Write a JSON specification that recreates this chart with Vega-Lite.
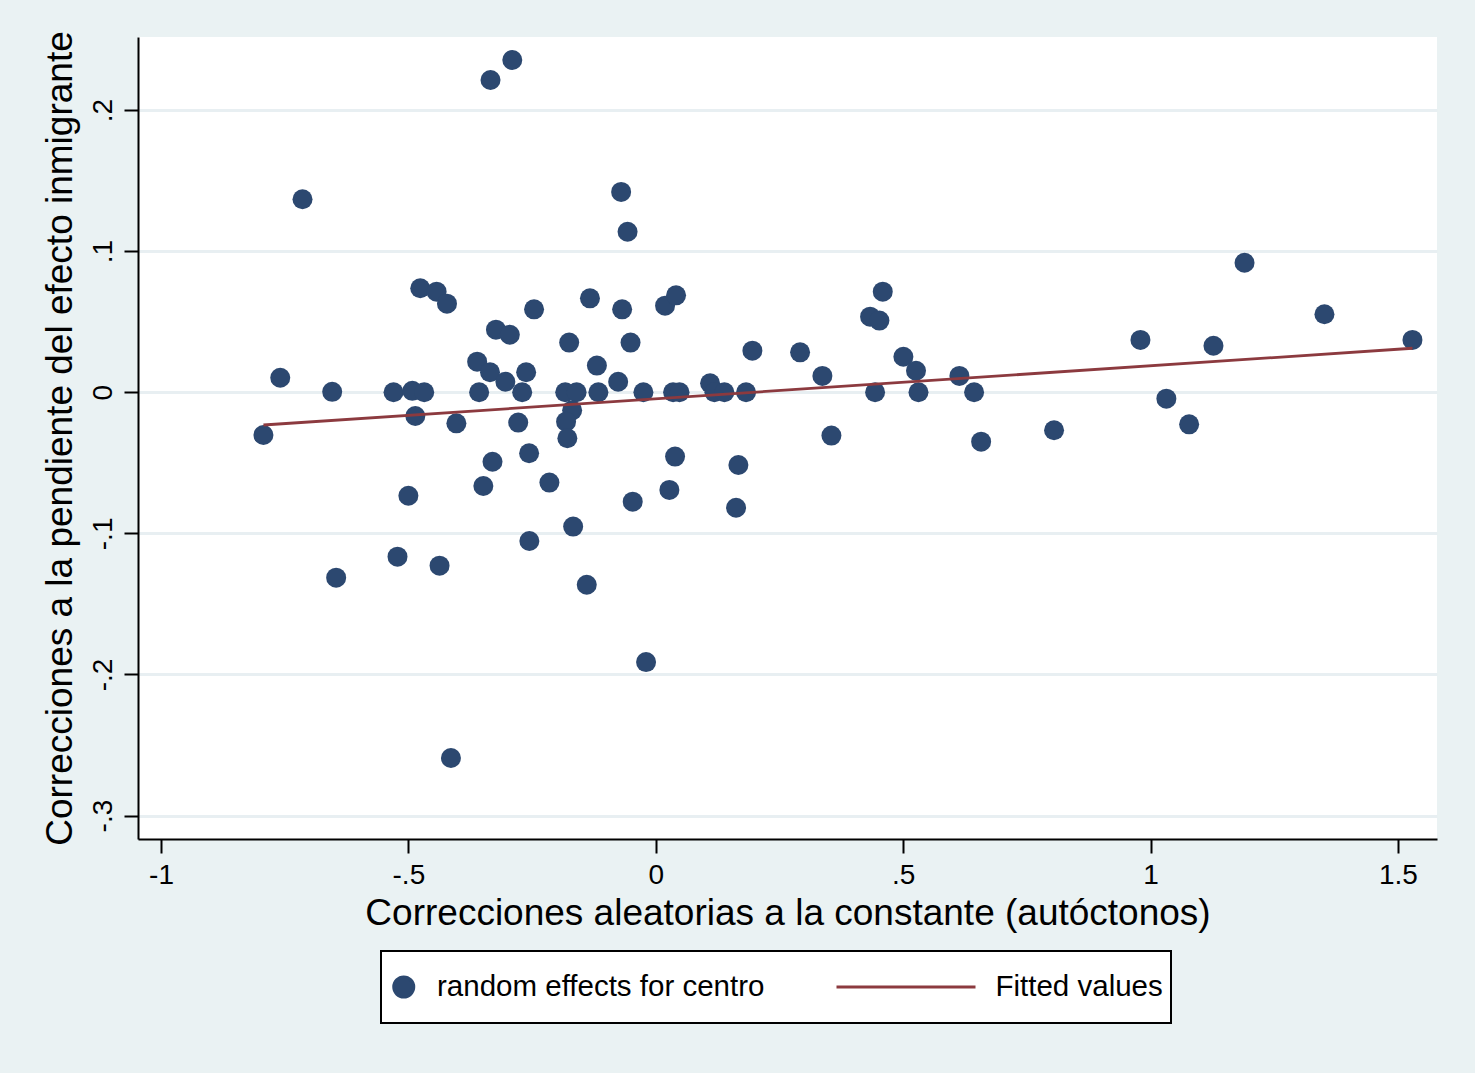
{
  "$schema": "https://vega.github.io/schema/vega-lite/v6.json",
  "width": 1299,
  "height": 802,
  "autosize": {"type": "none"},
  "padding": {"left": 138, "top": 37, "right": 38, "bottom": 234},
  "background": "#eaf2f3",
  "config": {
    "view": {"fill": "white", "stroke": null},
    "font": "Liberation Sans",
    "axis": {
      "domainColor": "black",
      "domainWidth": 2,
      "tickColor": "black",
      "tickWidth": 2,
      "tickSize": 14,
      "labelFont": "Liberation Sans",
      "labelFontSize": 28,
      "labelColor": "black",
      "titleFont": "Liberation Sans",
      "titleFontSize": 37,
      "titleFontWeight": "normal",
      "titleColor": "black",
      "gridColor": "#e8eff2",
      "gridWidth": 3
    },
    "legend": {
      "title": null,
      "orient": "none",
      "legendX": 243,
      "legendY": 914,
      "direction": "horizontal",
      "strokeColor": "black",
      "strokeWidth": 2,
      "fillColor": "white",
      "padding": 8,
      "clipHeight": 56,
      "labelFont": "Liberation Sans",
      "labelFontSize": 29.5,
      "labelColor": "black",
      "labelOffset": 18.5,
      "labelLimit": 1000,
      "columnPadding": 70,
      "symbolOffset": 0,
      "symbolStrokeWidth": 3
    }
  },
  "datasets": {
    "points": [
      {"x": -0.793, "y": -0.0303, "series": "random effects for centro"},
      {"x": -0.759, "y": 0.0103, "series": "random effects for centro"},
      {"x": -0.714, "y": 0.1368, "series": "random effects for centro"},
      {"x": -0.654, "y": 0.0003, "series": "random effects for centro"},
      {"x": -0.646, "y": -0.1314, "series": "random effects for centro"},
      {"x": -0.530, "y": 0.0, "series": "random effects for centro"},
      {"x": -0.522, "y": -0.1165, "series": "random effects for centro"},
      {"x": -0.500, "y": -0.0733, "series": "random effects for centro"},
      {"x": -0.492, "y": 0.001, "series": "random effects for centro"},
      {"x": -0.486, "y": -0.0168, "series": "random effects for centro"},
      {"x": -0.476, "y": 0.0737, "series": "random effects for centro"},
      {"x": -0.468, "y": 0.0, "series": "random effects for centro"},
      {"x": -0.443, "y": 0.0713, "series": "random effects for centro"},
      {"x": -0.437, "y": -0.1229, "series": "random effects for centro"},
      {"x": -0.422, "y": 0.0628, "series": "random effects for centro"},
      {"x": -0.414, "y": -0.2592, "series": "random effects for centro"},
      {"x": -0.403, "y": -0.022, "series": "random effects for centro"},
      {"x": -0.361, "y": 0.0217, "series": "random effects for centro"},
      {"x": -0.357, "y": 0.0, "series": "random effects for centro"},
      {"x": -0.3485, "y": -0.0664, "series": "random effects for centro"},
      {"x": -0.335, "y": 0.0142, "series": "random effects for centro"},
      {"x": -0.334, "y": 0.2213, "series": "random effects for centro"},
      {"x": -0.330, "y": -0.0492, "series": "random effects for centro"},
      {"x": -0.323, "y": 0.0444, "series": "random effects for centro"},
      {"x": -0.304, "y": 0.0075, "series": "random effects for centro"},
      {"x": -0.295, "y": 0.0408, "series": "random effects for centro"},
      {"x": -0.290, "y": 0.2355, "series": "random effects for centro"},
      {"x": -0.278, "y": -0.0215, "series": "random effects for centro"},
      {"x": -0.270, "y": 0.0, "series": "random effects for centro"},
      {"x": -0.262, "y": 0.0142, "series": "random effects for centro"},
      {"x": -0.256, "y": -0.0432, "series": "random effects for centro"},
      {"x": -0.2555, "y": -0.1054, "series": "random effects for centro"},
      {"x": -0.246, "y": 0.0588, "series": "random effects for centro"},
      {"x": -0.215, "y": -0.064, "series": "random effects for centro"},
      {"x": -0.183, "y": 0.0, "series": "random effects for centro"},
      {"x": -0.175, "y": 0.0352, "series": "random effects for centro"},
      {"x": -0.169, "y": -0.0128, "series": "random effects for centro"},
      {"x": -0.167, "y": -0.0952, "series": "random effects for centro"},
      {"x": -0.160, "y": 0.0, "series": "random effects for centro"},
      {"x": -0.1813, "y": -0.0208, "series": "random effects for centro"},
      {"x": -0.1787, "y": -0.0326, "series": "random effects for centro"},
      {"x": -0.1395, "y": -0.1364, "series": "random effects for centro"},
      {"x": -0.133, "y": 0.0666, "series": "random effects for centro"},
      {"x": -0.119, "y": 0.0189, "series": "random effects for centro"},
      {"x": -0.116, "y": 0.0, "series": "random effects for centro"},
      {"x": -0.076, "y": 0.0075, "series": "random effects for centro"},
      {"x": -0.070, "y": 0.142, "series": "random effects for centro"},
      {"x": -0.068, "y": 0.0588, "series": "random effects for centro"},
      {"x": -0.057, "y": 0.1138, "series": "random effects for centro"},
      {"x": -0.051, "y": 0.0352, "series": "random effects for centro"},
      {"x": -0.0466, "y": -0.0775, "series": "random effects for centro"},
      {"x": -0.025, "y": 0.0, "series": "random effects for centro"},
      {"x": -0.0196, "y": -0.1912, "series": "random effects for centro"},
      {"x": 0.0188, "y": 0.0614, "series": "random effects for centro"},
      {"x": 0.0275, "y": -0.0692, "series": "random effects for centro"},
      {"x": 0.035, "y": 0.0, "series": "random effects for centro"},
      {"x": 0.039, "y": -0.0456, "series": "random effects for centro"},
      {"x": 0.041, "y": 0.0687, "series": "random effects for centro"},
      {"x": 0.048, "y": 0.0, "series": "random effects for centro"},
      {"x": 0.1098, "y": 0.0064, "series": "random effects for centro"},
      {"x": 0.1185, "y": 0.0, "series": "random effects for centro"},
      {"x": 0.1387, "y": 0.0, "series": "random effects for centro"},
      {"x": 0.1623, "y": -0.0818, "series": "random effects for centro"},
      {"x": 0.167, "y": -0.0515, "series": "random effects for centro"},
      {"x": 0.1825, "y": 0.0, "series": "random effects for centro"},
      {"x": 0.1953, "y": 0.0295, "series": "random effects for centro"},
      {"x": 0.2917, "y": 0.0283, "series": "random effects for centro"},
      {"x": 0.3368, "y": 0.0116, "series": "random effects for centro"},
      {"x": 0.355, "y": -0.0307, "series": "random effects for centro"},
      {"x": 0.4332, "y": 0.0536, "series": "random effects for centro"},
      {"x": 0.4433, "y": 0.0, "series": "random effects for centro"},
      {"x": 0.452, "y": 0.0508, "series": "random effects for centro"},
      {"x": 0.4588, "y": 0.0713, "series": "random effects for centro"},
      {"x": 0.5005, "y": 0.0252, "series": "random effects for centro"},
      {"x": 0.526, "y": 0.0153, "series": "random effects for centro"},
      {"x": 0.531, "y": 0.0, "series": "random effects for centro"},
      {"x": 0.6137, "y": 0.0116, "series": "random effects for centro"},
      {"x": 0.6434, "y": 0.0, "series": "random effects for centro"},
      {"x": 0.6576, "y": -0.035, "series": "random effects for centro"},
      {"x": 0.805, "y": -0.0269, "series": "random effects for centro"},
      {"x": 0.9796, "y": 0.0371, "series": "random effects for centro"},
      {"x": 1.032, "y": -0.0045, "series": "random effects for centro"},
      {"x": 1.078, "y": -0.0227, "series": "random effects for centro"},
      {"x": 1.1272, "y": 0.033, "series": "random effects for centro"},
      {"x": 1.19, "y": 0.0918, "series": "random effects for centro"},
      {"x": 1.3515, "y": 0.0553, "series": "random effects for centro"},
      {"x": 1.5294, "y": 0.0371, "series": "random effects for centro"}
    ],
    "fit": [
      {"x": -0.793, "y": -0.0232, "series": "Fitted values"},
      {"x": 1.5294, "y": 0.0312, "series": "Fitted values"}
    ]
  },
  "layer": [
    {
      "data": {"name": "points"},
      "mark": {"type": "point", "filled": true, "opacity": 1},
      "encoding": {
        "x": {
          "field": "x",
          "type": "quantitative",
          "scale": {"domain": [-1.0465, 1.579], "nice": false, "zero": false},
          "axis": {
            "title": "Correcciones aleatorias a la constante (autóctonos)",
            "values": [-1, -0.5, 0, 0.5, 1, 1.5],
            "grid": false,
            "labelPadding": 8,
            "titlePadding": 6,
            "labelExpr": "datum.value == 0 ? '0' : replace(toString(datum.value), '0.', '.')"
          }
        },
        "y": {
          "field": "y",
          "type": "quantitative",
          "scale": {"domain": [-0.3166, 0.2518], "nice": false, "zero": false},
          "axis": {
            "title": "Correcciones a la pendiente del efecto inmigrante",
            "values": [-0.3, -0.2, -0.1, 0, 0.1, 0.2],
            "grid": true,
            "labelAngle": 270,
            "labelAlign": "center",
            "labelBaseline": "alphabetic",
            "labelPadding": 13,
            "titlePadding": 10,
            "labelExpr": "datum.value == 0 ? '0' : replace(toString(datum.value), '0.', '.')"
          }
        },
        "color": {
          "field": "series",
          "type": "nominal",
          "scale": {
            "domain": ["random effects for centro", "Fitted values"],
            "range": ["#2c4870", "#8c3a3f"]
          }
        },
        "shape": {
          "field": "series",
          "type": "nominal",
          "scale": {
            "domain": ["random effects for centro", "Fitted values"],
            "range": ["circle", "stroke"]
          }
        },
        "size": {
          "field": "series",
          "type": "nominal",
          "scale": {
            "type": "ordinal",
            "domain": ["random effects for centro", "Fitted values"],
            "range": [400, 19321]
          }
        }
      }
    },
    {
      "data": {"name": "fit"},
      "mark": {"type": "line", "strokeWidth": 2.8},
      "encoding": {
        "x": {"field": "x", "type": "quantitative"},
        "y": {"field": "y", "type": "quantitative"},
        "color": {"field": "series", "type": "nominal"}
      }
    }
  ]
}
